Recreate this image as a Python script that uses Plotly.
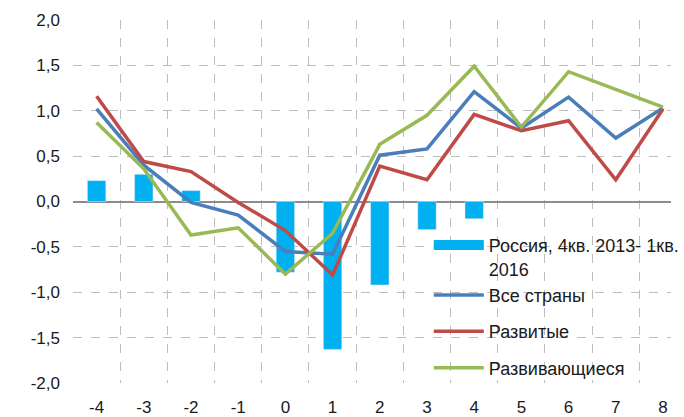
import plotly.graph_objects as go

quarters = [-4, -3, -2, -1, 0, 1, 2, 3, 4, 5, 6, 7, 8]
x_labels = ["-4", "-3", "-2", "-1", "0", "1", "2", "3", "4", "5", "6", "7", "8"]
y_ticks = [-2.0, -1.5, -1.0, -0.5, 0.0, 0.5, 1.0, 1.5, 2.0]
y_labels = ["-2,0", "-1,5", "-1,0", "-0,5", "0,0", "0,5", "1,0", "1,5", "2,0"]

russia = [0.23, 0.30, 0.12, None, -0.78, -1.63, -0.92, -0.31, -0.19, None, None, None, None]
all_countries = [1.02, 0.40, -0.01, -0.15, -0.55, -0.58, 0.51, 0.58, 1.21, 0.81, 1.15, 0.70, 1.03]
developed = [1.16, 0.44, 0.33, -0.01, -0.32, -0.81, 0.39, 0.24, 0.96, 0.78, 0.89, 0.24, 1.02]
developing = [0.87, 0.36, -0.37, -0.29, -0.80, -0.35, 0.63, 0.95, 1.49, 0.82, 1.43, 1.23, 1.04]

names = ["Россия, 4кв. 2013- 1кв.<br>2016", "Все страны", "Развитые", "Развивающиеся"]
colors = ["#00B0F0", "#4A7EBB", "#BE4B48", "#98B954"]
groups = ["a", "a", "b", "c"]

fig = go.Figure()
fig.add_trace(go.Bar(x=quarters, y=russia, name=names[0], marker_color=colors[0],
                     width=0.39, showlegend=False))
# legend entry for the bars, drawn as a thick swatch like in Excel
fig.add_trace(go.Scatter(x=[None], y=[None], mode="lines", name=names[0],
                         line=dict(color=colors[0], width=12), legendgroup=groups[0]))
for i, ys in enumerate([all_countries, developed, developing]):
    fig.add_trace(go.Scatter(x=quarters, y=ys, mode="lines", name=names[i + 1],
                             line=dict(color=colors[i + 1], width=3.5),
                             legendgroup=groups[i + 1]))

fig.update_layout(
    width=684, height=417,
    margin=dict(l=73, r=0, t=20, b=29),
    plot_bgcolor="white", paper_bgcolor="white",
    font=dict(family="Liberation Sans, Arial, sans-serif", size=17, color="#1a1a1a"),
    showlegend=True,
    legend=dict(x=0.595, y=0.43, xanchor="left", yanchor="top", valign="top",
                bgcolor="rgba(255,255,255,0)", font=dict(size=18), itemwidth=50,
                tracegroupgap=10, traceorder="grouped"),
)
fig.update_xaxes(
    range=[-4.5, 8.17], tickvals=quarters, ticktext=x_labels,
    showgrid=False, zeroline=False, ticks="", ticklabelstandoff=12,
    minor=dict(tick0=-4.5, dtick=1, showgrid=True, gridcolor="#bdbdbd",
               griddash="dash", gridwidth=1),
)
fig.update_yaxes(
    range=[-2, 2], tickvals=y_ticks, ticktext=y_labels, showgrid=True,
    gridcolor="#bdbdbd", griddash="dash", gridwidth=1,
    zeroline=True, zerolinecolor="#8c8c8c", zerolinewidth=1.5,
    ticklabelstandoff=12,
)

fig.write_html("out.html", config={"displayModeBar": False},
               post_script="document.body.style.margin='0';")
